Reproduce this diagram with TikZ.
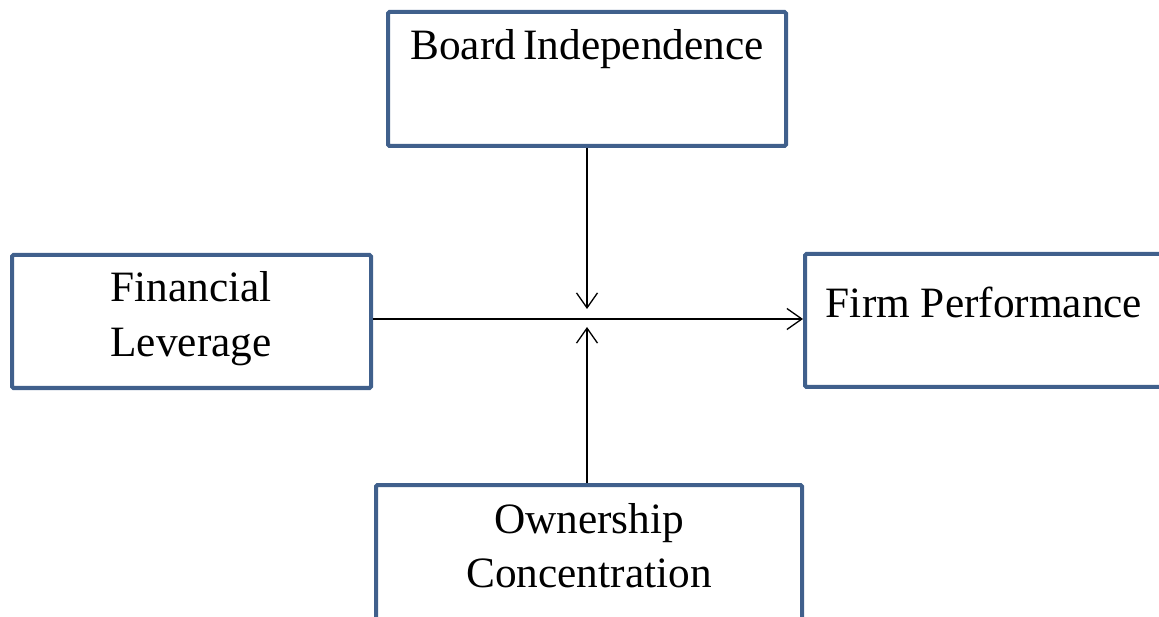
\documentclass[tikz,border=0pt]{standalone}
\usepackage{fontspec}
\setmainfont{Liberation Serif}
\usetikzlibrary{arrows.meta}
\definecolor{boxblue}{RGB}{64,96,140}
\tikzset{
  frame/.style={draw=boxblue, line width=4pt, fill=white, inner sep=0pt, rounded corners=1.5pt},
  label/.style={inner sep=0pt, anchor=base, align=center,
    font=\fontsize{43.3}{55}\selectfont},
  link/.style={line width=1.3pt, -{Straight Barb[length=15pt,width=21pt,line width=1.3pt]}}
}
\begin{document}
\begin{tikzpicture}[x=1pt,y=-1pt]
  \useasboundingbox (0,0) rectangle (1159,617);
  % boxes
  \node[frame, minimum width=398pt, minimum height=134pt] (board) at (587,79) {};
  \node[frame, minimum width=359pt, minimum height=133pt] (lev) at (191.5,321.5) {};
  \node[frame, minimum width=375pt, minimum height=133pt] (perf) at (992.5,320.5) {};
  \node[frame, minimum width=426pt, minimum height=160pt] (own) at (589,565) {};
  % texts
  \node[label] (tboard) at (587,60) {Board\,Independence};
  \node[label] (tlev1) at (191,302) {Financial};
  \node[label] (tlev2) at (191,357) {Leverage};
  \node[label] (tperf) at (984,318) {Firm Performance};
  \node[label] (town1) at (589,533) {Ownership};
  \node[label] (town2) at (589,587) {Concentration};
  % connectors
  \coordinate (meet) at (587,319);
  \coordinate (topend) at (587,309);
  \coordinate (botend) at (587,327);
  \draw[link] (lev.east |- meet) -- (perf.west |- meet);
  \draw[link] (board.south -| meet) -- (topend);
  \draw[link] (own.north -| meet) -- (botend);
\end{tikzpicture}
\end{document}
